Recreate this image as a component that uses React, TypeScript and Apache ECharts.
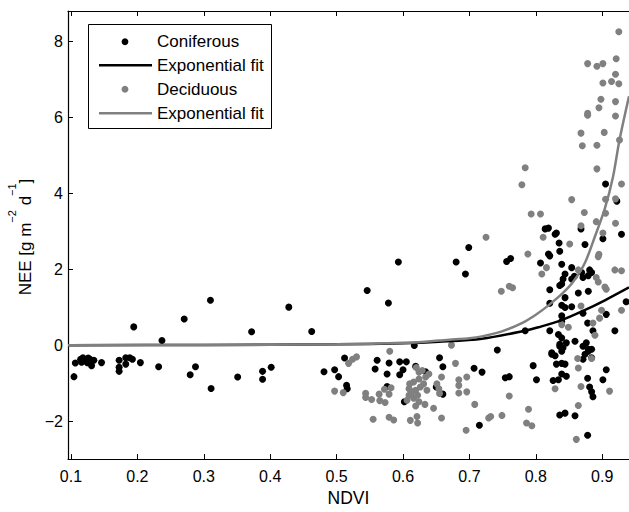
import React, { useEffect, useRef } from "react";
import * as echarts from "echarts";

const xTicks = [0.1, 0.2, 0.3, 0.4, 0.5, 0.6, 0.7, 0.8, 0.9];
const yTicks = [-2, 0, 2, 4, 6, 8];

const legendLabels = ["Coniferous", "Exponential fit", "Deciduous", "Exponential fit"];

const coniferous: number[][] = [
  [0.1045, -0.83], [0.1065, -0.47], [0.1145, -0.37], [0.116, -0.45], [0.118, -0.33], [0.121, -0.41],
  [0.1245, -0.46], [0.126, -0.34], [0.1285, -0.37], [0.131, -0.54], [0.1345, -0.4], [0.146, -0.46],
  [0.1725, -0.4], [0.1725, -0.58], [0.1725, -0.69], [0.1825, -0.33], [0.1825, -0.5], [0.1885, -0.33],
  [0.1925, -0.37], [0.1945, 0.48], [0.2045, -0.46], [0.232, -0.57], [0.237, 0.12], [0.2705, 0.69],
  [0.2795, -0.78], [0.2875, -0.57], [0.31, 1.18], [0.311, -1.14], [0.351, -0.84], [0.372, 0.35],
  [0.3885, -0.69], [0.3885, -0.9], [0.4015, -0.58], [0.428, 1.0], [0.4625, 0.36],
  [0.481, -0.7], [0.497, -0.65], [0.503, -0.83], [0.512, -0.34], [0.515, -1.06], [0.516, -1.15],
  [0.546, 1.44], [0.558, -0.63], [0.561, -0.4], [0.576, -0.76], [0.576, -1.09], [0.578, 1.11],
  [0.579, -0.47], [0.593, 2.19], [0.595, -0.44], [0.595, -0.78], [0.6, -0.65], [0.602, -1.49],
  [0.605, -0.44], [0.617, -0.01], [0.619, -0.56], [0.634, -0.7], [0.65, -1.1], [0.655, -0.33],
  [0.66, -0.57], [0.66, -1.29], [0.68, 2.19], [0.694, 1.87], [0.699, 2.57], [0.707, -0.61],
  [0.715, -2.11], [0.719, -0.71], [0.742, -0.13], [0.754, -0.86], [0.756, 2.2], [0.76, -0.83],
  [0.762, 2.28], [0.784, 0.38], [0.796, -0.54], [0.801, -0.91],
  [0.807, 2.16], [0.814, 3.06], [0.819, 3.08], [0.819, 2.4], [0.821, 2.35], [0.821, 0.38],
  [0.821, 1.46], [0.821, 1.1], [0.824, -0.2], [0.824, -0.24], [0.826, -0.93], [0.829, 2.92],
  [0.829, -0.28], [0.831, 2.95], [0.831, -0.5], [0.834, 0.28], [0.834, -0.91], [0.835, 2.69],
  [0.836, 2.47], [0.836, 1.57], [0.836, 0.02], [0.836, -0.03], [0.836, -1.84], [0.839, 2.13],
  [0.839, 1.61], [0.839, 1.05], [0.839, 0.77], [0.839, 0.62], [0.839, 0.19], [0.839, -0.16],
  [0.839, -0.48], [0.839, -0.76], [0.841, 1.74], [0.841, -0.07], [0.844, 1.87], [0.844, 1.25],
  [0.844, 0.99], [0.844, -0.5], [0.844, -1.79], [0.846, 0.06], [0.846, -0.82], [0.854, 2.04],
  [0.854, 1.74], [0.854, 1.01], [0.858, 1.81], [0.859, 0.1], [0.859, -1.86], [0.864, 1.37],
  [0.868, 3.06], [0.869, 1.91], [0.871, 1.78], [0.871, 0.84], [0.871, -0.03], [0.871, -0.37],
  [0.874, 2.65], [0.874, -0.24], [0.876, 0.06], [0.878, 0.58], [0.878, -0.87], [0.878, -2.37],
  [0.879, 1.83], [0.879, 1.42], [0.879, -0.16], [0.879, -0.11], [0.881, 1.98], [0.881, -1.1],
  [0.884, 1.91], [0.884, -0.11], [0.884, -0.33], [0.884, -1.23], [0.886, 0.38], [0.886, -1.36],
  [0.901, 2.8], [0.901, -0.91], [0.905, 4.24], [0.906, 0.81], [0.906, -0.65], [0.919, 0.38],
  [0.922, 3.79], [0.929, 2.92], [0.936, 1.14],
];

const deciduous: number[][] = [
  [0.497, -1.21], [0.51, -1.25], [0.518, -0.48], [0.524, -0.37], [0.53, -0.31], [0.5437, -1.27],
  [0.5437, -1.38], [0.5527, -1.43], [0.555, -1.95], [0.564, -1.29], [0.565, -1.46], [0.572, -1.16],
  [0.573, -1.51], [0.579, -1.29], [0.579, -1.9], [0.58, -0.16], [0.582, -1.12], [0.586, -1.97],
  [0.606, -1.45], [0.609, -1.15], [0.609, -1.32], [0.61, -1.02], [0.611, -1.98], [0.614, -1.23],
  [0.616, -0.97], [0.616, -1.4], [0.619, -1.19], [0.619, -1.6], [0.62, -0.59], [0.621, -1.88],
  [0.622, -1.32], [0.622, -2.05], [0.624, -0.71], [0.624, -0.89], [0.624, -1.49], [0.626, -1.1],
  [0.629, -0.67], [0.631, -1.02], [0.633, -1.56], [0.634, -0.84], [0.636, -1.19], [0.639, -0.76],
  [0.646, -1.66], [0.651, -1.02], [0.654, -1.15], [0.655, -1.27], [0.658, -0.84], [0.658, -1.92],
  [0.673, 0.0], [0.679, -0.48], [0.684, -0.91], [0.684, -1.06], [0.684, -1.26], [0.695, -2.24],
  [0.696, -0.84], [0.696, -1.23], [0.708, -1.56], [0.725, 2.84], [0.729, -1.92], [0.732, -1.88],
  [0.748, 1.42], [0.749, -1.85], [0.76, 1.55], [0.76, -1.34], [0.765, 1.51], [0.779, 4.22],
  [0.784, 4.67], [0.786, -2.05], [0.788, 2.4], [0.789, -1.69], [0.793, 3.45], [0.794, -2.12],
  [0.807, 3.45], [0.809, 1.87], [0.811, 2.84], [0.816, 2.04], [0.829, -1.15], [0.839, 0.54],
  [0.849, 0.47], [0.851, 2.66], [0.854, 3.83], [0.861, -2.48], [0.863, -0.35], [0.864, 1.98],
  [0.864, -0.6], [0.864, -1.59], [0.868, 5.58], [0.868, 3.14], [0.868, 1.03], [0.868, -1.09],
  [0.87, 5.25], [0.873, 3.49], [0.878, 7.41], [0.878, 6.1], [0.878, 6.05], [0.884, -0.35],
  [0.886, 0.58], [0.889, 0.26], [0.891, 3.25], [0.891, 1.78], [0.892, 7.34], [0.892, 5.26],
  [0.892, 4.64], [0.894, 2.33], [0.894, 1.66], [0.895, 6.25], [0.895, 2.39], [0.896, 0.71],
  [0.898, 6.47], [0.899, 0.92], [0.901, 7.41], [0.901, 6.9], [0.901, 2.95], [0.903, 5.6],
  [0.904, 1.53], [0.905, 3.84], [0.905, 3.47], [0.906, 1.47], [0.911, -1.21], [0.914, 6.94],
  [0.919, 1.98], [0.92, 7.13], [0.92, 6.41], [0.92, 6.03], [0.92, 3.85], [0.92, 3.21],
  [0.921, 7.54], [0.925, 8.25], [0.925, 6.88], [0.926, 5.4], [0.929, 4.24], [0.929, 1.96],
  [0.929, 0.92],
];

const coniferousFit: number[][] = [
  [0.0955, 0.0], [0.3, 0.005], [0.5, 0.02], [0.6, 0.05], [0.654, 0.09], [0.719, 0.17],
  [0.784, 0.38], [0.804, 0.47], [0.839, 0.66], [0.871, 0.9], [0.904, 1.18], [0.9403, 1.52],
];

const deciduousFit: number[][] = [
  [0.0955, 0.0], [0.3, 0.002], [0.5, 0.02], [0.6, 0.06], [0.654, 0.12], [0.7, 0.18],
  [0.719, 0.23], [0.75, 0.37], [0.779, 0.58], [0.8, 0.8], [0.82, 1.06], [0.84, 1.36],
  [0.856, 1.66], [0.874, 2.17], [0.889, 2.86], [0.904, 3.6], [0.916, 4.41], [0.926, 5.4],
  [0.9403, 6.55],
];

const FONT = "'Liberation Sans', Arial, Helvetica, sans-serif";
const BLACK = "#000000";
const GRAY = "#808080";

export default function App() {
  const ref = useRef<HTMLDivElement>(null);
  useEffect(() => {
    if (!ref.current) return;
    const chart = echarts.init(ref.current, undefined, { renderer: "svg" });
    const xMin = 0.0955;
    const xMax = 0.9403;
    const axisLineStyle = { color: "#000", width: 1.2 };
    const rows = [41.7, 65.3, 89.3, 113.3];
    chart.setOption({
      animation: false,
      backgroundColor: "#ffffff",
      grid: { left: 68, right: -2, top: 11, bottom: 45 },
      xAxis: [
        {
          type: "value",
          position: "bottom",
          min: xMin,
          max: xMax,
          name: "NDVI",
          nameLocation: "middle",
          nameGap: 28,
          nameTextStyle: { fontFamily: FONT, fontSize: 17.5, color: "#000" },
          axisLine: { show: true, onZero: false, lineStyle: axisLineStyle },
          axisTick: { show: true, inside: true, length: 5, customValues: xTicks, lineStyle: { color: "#000" } },
          axisLabel: {
            show: true,
            customValues: xTicks,
            margin: 9,
            fontFamily: FONT,
            fontSize: 16,
            color: "#000",
            formatter: (v: number) => v.toFixed(1),
          },
          splitLine: { show: false },
        },
        {
          type: "value",
          position: "top",
          min: xMin,
          max: xMax,
          axisLine: { show: true, onZero: false, lineStyle: axisLineStyle },
          axisTick: { show: true, inside: true, length: 5, customValues: xTicks, lineStyle: { color: "#000" } },
          axisLabel: { show: false, customValues: xTicks },
          splitLine: { show: false },
        },
      ],
      yAxis: {
        type: "value",
        min: -3,
        max: 8.795,
        axisLine: { show: true, onZero: false, lineStyle: axisLineStyle },
        axisTick: { show: true, inside: true, length: 5, customValues: yTicks, lineStyle: { color: "#000" } },
        axisLabel: {
          show: true,
          customValues: yTicks,
          margin: 5,
          fontFamily: FONT,
          fontSize: 16,
          color: "#000",
          formatter: (v: number) => (v < 0 ? "\u2212" + Math.abs(v) : String(v)),
        },
        splitLine: { show: false },
      },
      series: [
        {
          name: legendLabels[0],
          type: "scatter",
          data: coniferous,
          symbol: "circle",
          symbolSize: 7,
          itemStyle: { color: BLACK, opacity: 1 },
        },
        {
          name: legendLabels[1],
          type: "line",
          data: coniferousFit,
          showSymbol: false,
          symbol: "none",
          smooth: 0.3,
          lineStyle: { color: BLACK, width: 2.5 },
        },
        {
          name: legendLabels[2],
          type: "scatter",
          data: deciduous,
          symbol: "circle",
          symbolSize: 7,
          itemStyle: { color: GRAY, opacity: 1 },
        },
        {
          name: legendLabels[3],
          type: "line",
          data: deciduousFit,
          showSymbol: false,
          symbol: "none",
          smooth: 0.3,
          lineStyle: { color: GRAY, width: 2.5 },
        },
      ],
      graphic: [
        {
          type: "text",
          x: 20.3,
          y: 237,
          rotation: Math.PI / 2,
          style: {
            text: "{b|NEE [g m}{s|\u22122}{b| d}{s|\u22121}{b|]}",
            align: "center",
            verticalAlign: "middle",
            rich: {
              b: { fontFamily: FONT, fontSize: 17, lineHeight: 27, verticalAlign: "bottom", fill: "#000" },
              s: { fontFamily: FONT, fontSize: 11, lineHeight: 12, verticalAlign: "top", fill: "#000" },
            },
          },
        },
        {
          type: "group",
          z: 100,
          children: [
            {
              type: "rect",
              shape: { x: 88.5, y: 24.5, width: 183, height: 104 },
              style: { fill: "#ffffff", stroke: "#000", lineWidth: 1 },
            },
            { type: "circle", shape: { cx: 125, cy: rows[0], r: 3.4 }, style: { fill: BLACK } },
            { type: "line", shape: { x1: 99, y1: rows[1], x2: 152, y2: rows[1] }, style: { stroke: BLACK, lineWidth: 2.5 } },
            { type: "circle", shape: { cx: 125, cy: rows[2], r: 3.4 }, style: { fill: GRAY } },
            { type: "line", shape: { x1: 99, y1: rows[3], x2: 152, y2: rows[3] }, style: { stroke: GRAY, lineWidth: 2.5 } },
            ...legendLabels.map((t, i) => ({
              type: "text",
              x: 157,
              y: rows[i],
              style: { text: t, fontFamily: FONT, fontSize: 17, fill: "#000", verticalAlign: "middle", align: "left" },
            })),
          ],
        },
      ],
    });
    return () => chart.dispose();
  }, []);
  return <div ref={ref} style={{ position: "fixed", left: 0, top: 0, width: 629, height: 512, background: "#fff" }} />;
}
